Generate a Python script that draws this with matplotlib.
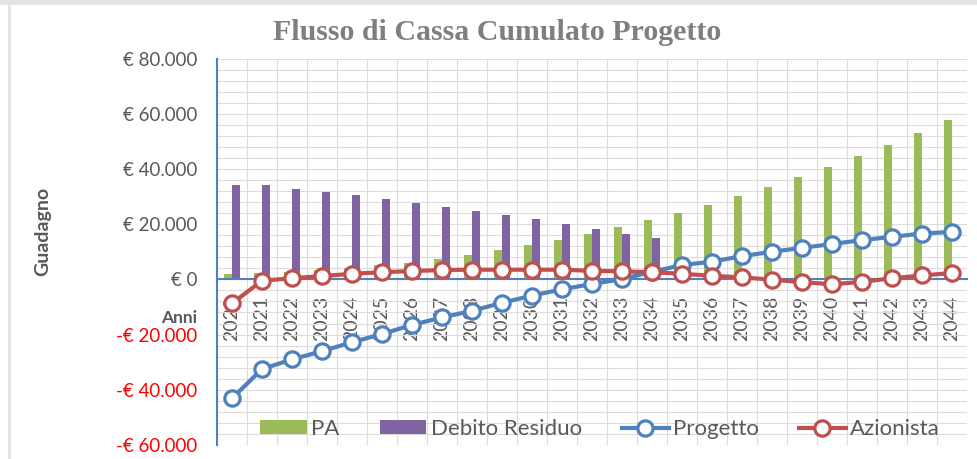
import numpy as np
import matplotlib
matplotlib.use("Agg")
import matplotlib.pyplot as plt
from matplotlib.patches import Rectangle
from matplotlib.ticker import FuncFormatter

plt.rcParams['font.family'] = ['Lato', 'DejaVu Sans']

anni = [str(a) for a in range(2020, 2045)]

pa = [1.9, 2.2, 2.6, 3.4, 4.2, 5.1, 6.0, 7.5, 8.8, 10.6, 12.3, 14.2, 16.4, 18.9,
      21.5, 24.1, 27.1, 30.2, 33.4, 36.9, 40.7, 44.6, 48.7, 53.1, 57.6]
debito = [34.0, 34.0, 32.8, 31.7, 30.4, 29.1, 27.7, 26.3, 24.8, 23.3, 21.7, 20.0,
          18.4, 16.6, 14.8, 0, 0, 0, 0, 0, 0, 0, 0, 0, 0]
progetto = [-43.1, -32.5, -29.0, -26.0, -22.8, -19.8, -16.5, -13.8, -11.4, -8.5,
            -5.9, -3.6, -1.7, 0.1, 2.7, 5.2, 6.4, 8.4, 10.0, 11.4, 12.8, 14.2,
            15.4, 16.6, 17.2]
azionista = [-8.7, -0.5, 0.4, 1.2, 2.0, 2.6, 3.0, 3.4, 3.5, 3.5, 3.5, 3.5, 3.1,
             2.9, 2.6, 2.0, 1.3, 0.7, -0.1, -1.0, -1.8, -0.9, 0.4, 1.4, 2.3]

# migliaia di euro -> euro
pa = np.array(pa) * 1000
debito = np.array(debito) * 1000
progetto = np.array(progetto) * 1000
azionista = np.array(azionista) * 1000

verde = '#9BBB59'
viola = '#8064A2'
blu = '#4F81BD'
rosso = '#C0504D'
grigio = '#595959'

fig = plt.figure(figsize=(9.77, 4.59), dpi=100)
fig.patch.set_facecolor('white')
# cornice grigia del foglio
fig.patches.append(Rectangle((0, 1 - 5 / 459), 1, 5 / 459, transform=fig.transFigure,
                             facecolor='#E3E3E3', edgecolor='none'))
fig.patches.append(Rectangle((8 / 977, 0), 3 / 977, 1, transform=fig.transFigure,
                             facecolor='#E3E3E3', edgecolor='none'))

ax = fig.add_axes([217 / 977, 1 - 445 / 459, 750 / 977, (445 - 58.5) / 459])

x = np.arange(len(anni))
w = 0.27
b1 = ax.bar(x - w / 2 - 0.01, pa, w, color=verde, label='PA', zorder=2)
b2 = ax.bar(x + w / 2 + 0.01, debito, w, color=viola, label='Debito Residuo', zorder=2)
l1, = ax.plot(x, progetto, color=blu, lw=3, marker='o', ms=11, mfc='white', mec=blu,
              mew=2.3, label='Progetto', zorder=4)
l2, = ax.plot(x, azionista, color=rosso, lw=3, marker='o', ms=11, mfc='white', mec=rosso,
              mew=2.3, label='Azionista', zorder=5)

ax.set_xlim(-0.5, len(anni) - 0.5)
ax.set_ylim(-60000, 80000)
ax.set_yticks(np.arange(-60000, 80001, 20000))
ax.set_yticks(np.arange(-60000, 80001, 4000), minor=True)
ax.set_xticks(x)
ax.set_xticks(np.arange(-0.5, len(anni), 1), minor=True)
ax.set_xticklabels(anni)


def euro(v, pos):
    s = f"{abs(v):,.0f}".replace(',', '.')
    return f"-€ {s}" if v < 0 else f"€ {s}"


ax.yaxis.set_major_formatter(FuncFormatter(euro))
ax.tick_params(axis='y', which='both', length=0, pad=14, labelsize=13.5)
ax.tick_params(axis='x', which='both', length=0, pad=12, labelsize=14,
               labelrotation=90, labelcolor=grigio)
for lab, v in zip(ax.get_yticklabels(), ax.get_yticks()):
    lab.set_color('#FF0000' if v < 0 else grigio)

ax.grid(which='both', axis='y', color='#DCDCDC', lw=0.8, zorder=0)
ax.grid(which='minor', axis='x', color='#DCDCDC', lw=0.8, zorder=0)
ax.grid(which='major', axis='x', visible=False)
ax.set_axisbelow(True)

ax.spines['bottom'].set_position(('data', 0))
ax.spines['bottom'].set_color(blu)
ax.spines['bottom'].set_linewidth(1.5)
ax.spines['bottom'].set_zorder(3)
ax.spines['left'].set_color(blu)
ax.spines['left'].set_linewidth(1.5)
ax.spines['top'].set_visible(False)
ax.spines['right'].set_visible(False)

fig.text(497 / 977, 1 - 40 / 459, 'Flusso di Cassa Cumulato Progetto',
         ha='center', va='baseline', fontsize=21.5, fontweight='bold', color='#7F7F7F',
         family='Liberation Serif')
fig.text(43 / 977, 1 - 231 / 459, 'Guadagno', rotation=90, ha='center', va='center',
         fontsize=14, fontweight='bold', color=grigio)
fig.text(197 / 977, 1 - 318 / 459, 'Anni', ha='right', va='center',
         fontsize=12.5, fontweight='bold', color=grigio)

leg = ax.legend([b1, b2, l1, l2], ['PA', 'Debito Residuo', 'Progetto', 'Azionista'],
                loc='center', bbox_to_anchor=(600 / 977, 1 - 429 / 459),
                bbox_transform=fig.transFigure, ncol=4, frameon=False,
                fontsize=16, handlelength=2.1, handletextpad=0.2,
                columnspacing=1.8, handleheight=0.6)
for t in leg.get_texts():
    t.set_color(grigio)

fig.savefig('out.png', dpi=100)
